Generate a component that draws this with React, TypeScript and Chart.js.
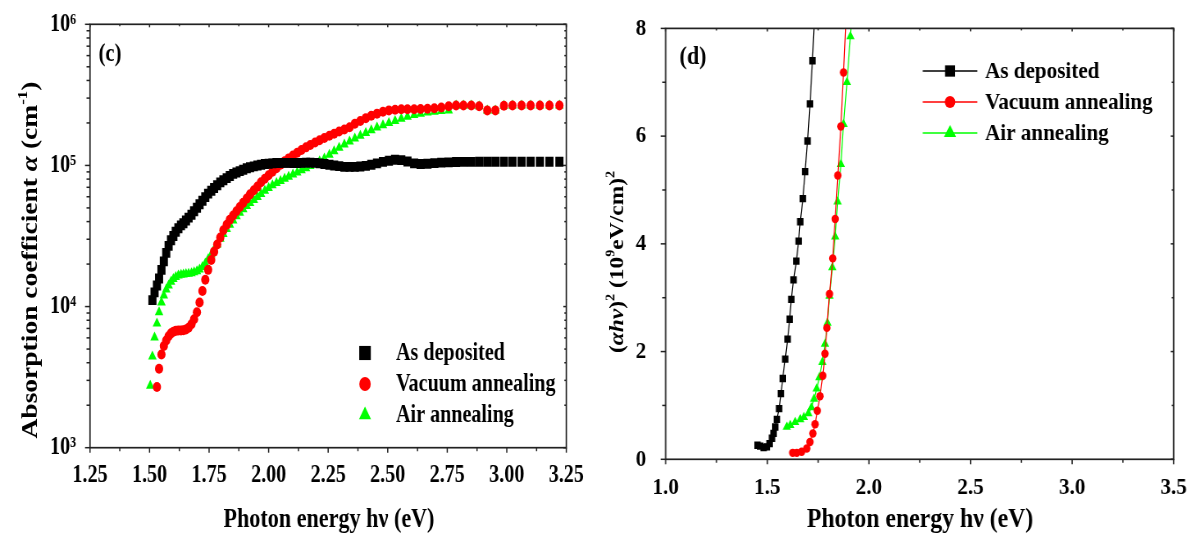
import React, { useEffect, useRef } from 'react';
import { Chart, registerables } from 'chart.js';

Chart.register(...registerables);

const FONT = '"Liberation Serif", "Times New Roman", serif';

// ---------- Panel (c): absorption coefficient ----------
const ENERGY_C = [
  1.503, 1.512, 1.521, 1.531, 1.540, 1.550, 1.560, 1.570, 1.580, 1.590, 1.600,
  1.610, 1.621, 1.632, 1.642, 1.653, 1.664, 1.676, 1.687, 1.699, 1.710,
  1.722, 1.734, 1.746, 1.759, 1.771, 1.784, 1.797, 1.810, 1.824,
  1.837, 1.851, 1.865, 1.879, 1.893, 1.908, 1.922, 1.938, 1.953,
  1.968, 1.984, 2.000, 2.016, 2.033, 2.050, 2.067, 2.084,
  2.102, 2.120, 2.138, 2.157, 2.175, 2.195, 2.214, 2.234,
  2.255, 2.275, 2.296, 2.318, 2.340, 2.362, 2.385, 2.408,
  2.431, 2.455, 2.480, 2.505, 2.531, 2.557, 2.583, 2.611,
  2.638, 2.667, 2.696, 2.725, 2.756, 2.787, 2.818, 2.851,
  2.884, 2.918, 2.952, 2.988, 3.024, 3.062, 3.100, 3.139, 3.179, 3.221,
];

const ALPHA_AS_DEPOSITED = [
  null, 11100, 12600, 14100, 15800, 18200, 20900, 24000, 26900, 29500, 31600,
  33900, 35900, 37600, 38900, 40700, 42700, 44700, 47300, 50100, 53100,
  56200, 59600, 63100, 66100, 69200, 72400, 75900, 78500, 81300,
  84100, 87100, 89100, 91200, 93300, 95500, 97100, 98400, 100000,
  101200, 102300, 102800, 103500, 104000, 104200, 104200, 104200,
  104000, 104000, 104200, 104700, 104700, 104200, 103500, 102300,
  101200, 100000, 98900, 97700, 97700, 97700, 98200, 99300,
  101200, 103500, 105900, 107900, 109600, 109100, 106700, 103500,
  102300, 102800, 103800, 104700, 105200, 105700, 105900, 105900,
  106200, 106200, 106200, 106200, 106200, 106200, 106200, 106200, 106200, 106200,
];

const ALPHA_VACUUM = [
  null, null, null, 2690, 3630, 4570, 5250, 5750, 6170, 6460, 6640,
  6730, 6760, 6760, 6790, 6890, 7080, 7500, 8130, 9120, 10700,
  12900, 15500, 18200, 21400, 24500, 27500, 30900, 34700, 38000,
  41200, 44200, 47300, 50700, 54300, 58200, 62400, 66800, 70800,
  75900, 80400, 85100, 90200, 95500, 101200, 107200, 112200,
  117500, 123000, 128800, 134300, 139600, 145200, 150700, 156300,
  162200, 167900, 173800, 179900, 186200, 197200, 206500, 216300,
  224900, 232800, 239900, 245500, 248300, 250000, 250000, 250000,
  251200, 252400, 254100, 257000, 263000, 266100, 266100, 266100,
  263000, 245500, 245500, 264800, 266100, 266100, 266100, 266100, 266100, 266100,
];

const ALPHA_AIR = [
  2750, 4420, 6030, 7590, 9120, 10700, 12000, 13200, 14100, 15000, 15700,
  16200, 16600, 16800, 16900, 17000, 17100, 17200, 17500, 17800, 18300,
  19100, 20200, 21600, 23400, 25400, 27500, 30200, 32700, 35500,
  38000, 40700, 43700, 46200, 49000, 51500, 54100, 56900, 59800,
  62800, 66100, 69200, 72400, 75000, 77600, 80400, 83200,
  86100, 89100, 92300, 95500, 98900, 102300, 107200, 112200,
  118900, 125900, 133400, 140600, 147900, 154900, 162200, 169800,
  177800, 185400, 192800, 199500, 206500, 213800, 221300, 227500,
  232800, 237100, 240400, 243200, 245500, 266100, 266100, 266100,
  263000, 245500, 245500, 264800, 266100, 266100, 266100, 266100, 266100, 266100,
];

// ---------- Panel (d): (alpha h nu)^2 in 10^9 (eV/cm)^2 ----------
const ENERGY_D_AS = [1.452, 1.465, 1.482, 1.498, 1.511, 1.523, 1.531, 1.539, 1.547, 1.558, 1.567, 1.576, 1.588, 1.600, 1.610, 1.618, 1.629, 1.643, 1.654, 1.662, 1.675, 1.686, 1.698, 1.710, 1.722, 1.734];
const TAUC_AS = [0.26, 0.245, 0.22, 0.23, 0.29, 0.39, 0.48, 0.60, 0.74, 0.94, 1.22, 1.50, 1.86, 2.23, 2.60, 2.97, 3.33, 3.68, 4.05, 4.41, 4.84, 5.34, 5.91, 6.60, 7.40, 8.30];
const ENERGY_D_VAC = [1.625, 1.645, 1.669, 1.694, 1.710, 1.724, 1.735, 1.746, 1.759, 1.773, 1.784, 1.793, 1.806, 1.822, 1.834, 1.847, 1.862, 1.875, 1.889];
const TAUC_VAC = [0.12, 0.12, 0.14, 0.20, 0.32, 0.48, 0.65, 0.90, 1.17, 1.55, 1.96, 2.44, 3.07, 3.73, 4.46, 5.27, 6.18, 7.18, 8.30];
const ENERGY_D_AIR = [1.596, 1.613, 1.637, 1.662, 1.680, 1.702, 1.717, 1.730, 1.743, 1.756, 1.771, 1.784, 1.796, 1.806, 1.820, 1.834, 1.846, 1.862, 1.875, 1.892, 1.909, 1.925];
const TAUC_AIR = [0.60, 0.63, 0.69, 0.74, 0.78, 0.85, 0.96, 1.12, 1.31, 1.52, 1.80, 2.14, 2.53, 3.03, 3.56, 4.13, 4.78, 5.48, 6.22, 7.00, 7.85, 8.70];

const SERIES_NAMES = ['As deposited', 'Vacuum annealing', 'Air annealing'];
const SERIES_COLORS = ['#000000', '#ff0000', '#00ff00'];
const POINT_STYLES = ['rect', 'circle', 'triangle'];

const X_TICKS_C = [1.25, 1.5, 1.75, 2.0, 2.25, 2.5, 2.75, 3.0, 3.25];
const X_MINOR_C = [1.375, 1.625, 1.875, 2.125, 2.375, 2.625, 2.875, 3.125];
const Y_TICKS_C = [1e3, 1e4, 1e5, 1e6];
const X_TICKS_D = [1.0, 1.5, 2.0, 2.5, 3.0, 3.5];
const X_MINOR_D = [1.25, 1.75, 2.25, 2.75, 3.25];
const Y_TICKS_D = [0, 2, 4, 6, 8];
const Y_MINOR_D = [1, 3, 5, 7];

const X_TITLE = 'Photon energy hν (eV)';
const PANEL_C = '(c)';
const PANEL_D = '(d)';

const SUP: Record<string, string> = { '0': '⁰', '1': '¹', '2': '²', '3': '³', '4': '⁴', '5': '⁵', '6': '⁶', '7': '⁷', '8': '⁸', '9': '⁹' };

// ---------- layout (screen px) ----------
const H = 535;
const SX_L = 0.82; // horizontal squeeze of the original figure, left panel
const SX_R = 0.88; // right panel
const LEFT_W = 595;
const RIGHT_X = 595;
const RIGHT_W = 598;

type Seg = { t: string; it?: boolean; sup?: boolean };
type TextItem = { segs: Seg[]; x: number; y: number; size: number; rotate?: boolean };

function drawRich(ctx: CanvasRenderingContext2D, item: TextItem) {
  const { segs, x, y, size, rotate } = item;
  ctx.save();
  ctx.translate(x, y);
  if (rotate) ctx.rotate(-Math.PI / 2);
  const fontFor = (s: Seg) => `${s.it ? 'italic ' : ''}bold ${s.sup ? Math.round(size * 0.6) : size}px ${FONT}`;
  let total = 0;
  for (const s of segs) {
    ctx.font = fontFor(s);
    total += ctx.measureText(s.t).width;
  }
  let cx = -total / 2;
  ctx.textAlign = 'left';
  ctx.textBaseline = 'alphabetic';
  ctx.fillStyle = '#000';
  const base = size * 0.34;
  for (const s of segs) {
    ctx.font = fontFor(s);
    ctx.fillText(s.t, cx, s.sup ? base - size * 0.42 : base);
    cx += ctx.measureText(s.t).width;
  }
  ctx.restore();
}

function drawMarker(ctx: CanvasRenderingContext2D, style: string, r: number, x: number, y: number) {
  ctx.beginPath();
  if (style === 'rect') {
    const s = Math.SQRT1_2 * r;
    ctx.rect(x - s, y - s, 2 * s, 2 * s);
  } else if (style === 'circle') {
    ctx.arc(x, y, r, 0, Math.PI * 2);
  } else {
    ctx.moveTo(x, y - r);
    ctx.lineTo(x + Math.sin(Math.PI * 2 / 3) * r, y + r / 2);
    ctx.lineTo(x - Math.sin(Math.PI * 2 / 3) * r, y + r / 2);
    ctx.closePath();
  }
  ctx.fill();
}

type DecorCfg = {
  sx: number;
  xMajor: number[]; xMinor: number[]; yMajor: number[]; yMinor: number[];
  texts: TextItem[];
  legend: { x: number; textX: number; rows: number[]; line?: number; size: number; radii: number[] };
};

function makeDecor(cfg: DecorCfg) {
  return {
    id: 'decor',
    afterDraw(chart: any) {
      const ctx: CanvasRenderingContext2D = chart.ctx;
      const { left, right, top, bottom } = chart.chartArea;
      const xs = chart.scales.x;
      const ys = chart.scales.y;
      ctx.save();
      ctx.strokeStyle = '#222';
      ctx.lineWidth = 1.7;
      ctx.strokeRect(left, top, right - left, bottom - top);
      ctx.lineWidth = 1.5;
      const seg = (x1: number, y1: number, x2: number, y2: number) => {
        ctx.beginPath();
        ctx.moveTo(x1, y1);
        ctx.lineTo(x2, y2);
        ctx.stroke();
      };
      const hx = (n: number) => n / cfg.sx;
      for (const v of cfg.xMajor) {
        const p = xs.getPixelForValue(v);
        seg(p, bottom, p, bottom + 5);
        seg(p, top, p, top + 3);
      }
      for (const v of cfg.xMinor) {
        const p = xs.getPixelForValue(v);
        seg(p, bottom, p, bottom + 3.5);
        seg(p, top, p, top + 2);
      }
      for (const v of cfg.yMajor) {
        const p = ys.getPixelForValue(v);
        seg(left, p, left - hx(5), p);
        seg(right, p, right - hx(3), p);
      }
      for (const v of cfg.yMinor) {
        const p = ys.getPixelForValue(v);
        seg(left, p, left - hx(3.5), p);
        seg(right, p, right - hx(2), p);
      }
      for (const t of cfg.texts) drawRich(ctx, t);
      const lg = cfg.legend;
      SERIES_NAMES.forEach((name, i) => {
        const y = lg.rows[i];
        ctx.fillStyle = SERIES_COLORS[i];
        ctx.strokeStyle = SERIES_COLORS[i];
        if (lg.line) {
          ctx.lineWidth = 1.3;
          seg(lg.x - lg.line / 2, y, lg.x + lg.line / 2, y);
        }
        drawMarker(ctx, POINT_STYLES[i], lg.radii[i], lg.x, y);
        ctx.fillStyle = '#000';
        ctx.font = `bold ${lg.size}px ${FONT}`;
        ctx.textAlign = 'left';
        ctx.textBaseline = 'middle';
        ctx.fillText(name, lg.textX, y + 1);
      });
      ctx.restore();
    },
  };
}

function toPoints(xs: number[], ys: (number | null)[]) {
  const out: { x: number; y: number }[] = [];
  xs.forEach((x, i) => {
    const y = ys[i];
    if (y !== null && y !== undefined) out.push({ x, y });
  });
  return out;
}

function fixedTicks(values: number[]) {
  return (scale: any) => {
    scale.ticks = values.map((v) => ({ value: v }));
  };
}

function buildLeft(canvas: HTMLCanvasElement) {
  const S = SX_L;
  const W = LEFT_W / S;
  const areaL = 90 / S;
  const areaR = 566 / S;
  const areaT = 24.3;
  const areaB = 447.7;
  const sup = (n: number) => String(n).split('').map((c) => SUP[c]).join('');
  const radii = [7, 5, 6];
  const decor = makeDecor({
    sx: S,
    xMajor: X_TICKS_C,
    xMinor: X_MINOR_C,
    yMajor: Y_TICKS_C,
    yMinor: [3, 4, 5].flatMap((e) => [2, 3, 4, 5, 6, 7, 8, 9].map((k) => k * Math.pow(10, e))),
    texts: [
      { segs: [{ t: PANEL_C }], x: 110 / S, y: 52, size: 25 },
      { segs: [{ t: X_TITLE }], x: 329 / S, y: 518, size: 27 },
      {
        segs: [{ t: 'Absorption coefficient ' }, { t: 'α', it: true }, { t: ' (cm' }, { t: '-1', sup: true }, { t: ')' }],
        x: 29 / S, y: 260, size: 27.5, rotate: true,
      },
    ],
    legend: { x: 365 / S, textX: 396 / S, rows: [353, 384, 415], size: 24.5, radii: [10, 7, 8.5] },
  });
  return new Chart(canvas, {
    type: 'scatter',
    data: {
      datasets: [ALPHA_AS_DEPOSITED, ALPHA_VACUUM, ALPHA_AIR].map((ys, i) => ({
        label: SERIES_NAMES[i],
        data: toPoints(ENERGY_C, ys),
        showLine: false,
        pointStyle: POINT_STYLES[i] as any,
        pointRadius: radii[i],
        pointBackgroundColor: SERIES_COLORS[i],
        pointBorderColor: SERIES_COLORS[i],
        pointBorderWidth: 0,
      })),
    },
    options: {
      responsive: false,
      animation: false,
      devicePixelRatio: 1,
      layout: { padding: { left: 0, top: areaT, right: W - areaR, bottom: 0 } },
      plugins: { legend: { display: false }, tooltip: { enabled: false } },
      scales: {
        x: {
          type: 'linear', min: 1.25, max: 3.25,
          afterBuildTicks: fixedTicks(X_TICKS_C),
          afterFit: (s: any) => { s.height = H - areaB; },
          grid: { display: false }, border: { display: false },
          ticks: {
            autoSkip: false, maxRotation: 0, padding: 5, color: '#000',
            font: { family: FONT, size: 24.5, weight: 'bold' },
            callback: (v: any) => Number(v).toFixed(2),
          },
        },
        y: {
          type: 'logarithmic', min: 1e3, max: 1e6,
          afterBuildTicks: fixedTicks(Y_TICKS_C),
          afterFit: (s: any) => { s.width = areaL; },
          grid: { display: false }, border: { display: false },
          ticks: {
            autoSkip: false, padding: 9, color: '#000',
            font: { family: FONT, size: 24.5, weight: 'bold' },
            callback: (v: any) => '10' + sup(Math.round(Math.log10(Number(v)))),
          },
        },
      },
    },
    plugins: [decor],
  });
}

function buildRight(canvas: HTMLCanvasElement) {
  const S = SX_R;
  const W = RIGHT_W / S;
  const areaL = (665.7 - RIGHT_X) / S;
  const areaR = (1173.3 - RIGHT_X) / S;
  const areaT = 25;
  const areaB = 459.3;
  const radii = [5.2, 4.2, 5.5];
  const decor = makeDecor({
    sx: S,
    xMajor: X_TICKS_D,
    xMinor: X_MINOR_D,
    yMajor: Y_TICKS_D,
    yMinor: Y_MINOR_D,
    texts: [
      { segs: [{ t: PANEL_D }], x: (693 - RIGHT_X) / S, y: 55, size: 25 },
      { segs: [{ t: X_TITLE }], x: (920 - RIGHT_X) / S, y: 518, size: 27 },
      {
        segs: [{ t: '(' }, { t: 'αhν', it: true }, { t: ')' }, { t: '2', sup: true }, { t: ' (10' }, { t: '9', sup: true }, { t: 'eV/cm)' }, { t: '2', sup: true }],
        x: (616 - RIGHT_X) / S, y: 262, size: 23.5, rotate: true,
      },
    ],
    legend: { x: (950 - RIGHT_X) / S, textX: (985 - RIGHT_X) / S, rows: [71, 102, 133], line: 62, size: 24, radii: [8, 6, 8] },
  });
  const sets = [
    [ENERGY_D_AS, TAUC_AS],
    [ENERGY_D_VAC, TAUC_VAC],
    [ENERGY_D_AIR, TAUC_AIR],
  ];
  return new Chart(canvas, {
    type: 'scatter',
    data: {
      datasets: sets.map(([xs, ys], i) => ({
        label: SERIES_NAMES[i],
        data: toPoints(xs as number[], ys as number[]),
        showLine: true,
        borderColor: SERIES_COLORS[i],
        borderWidth: 1.2,
        pointStyle: POINT_STYLES[i] as any,
        pointRadius: radii[i],
        pointBackgroundColor: SERIES_COLORS[i],
        pointBorderColor: SERIES_COLORS[i],
        pointBorderWidth: 0,
      })),
    },
    options: {
      responsive: false,
      animation: false,
      devicePixelRatio: 1,
      layout: { padding: { left: 0, top: areaT, right: W - areaR, bottom: 0 } },
      plugins: { legend: { display: false }, tooltip: { enabled: false } },
      scales: {
        x: {
          type: 'linear', min: 1.0, max: 3.5,
          afterBuildTicks: fixedTicks(X_TICKS_D),
          afterFit: (s: any) => { s.height = H - areaB; },
          grid: { display: false }, border: { display: false },
          ticks: {
            autoSkip: false, maxRotation: 0, padding: 6, color: '#000',
            font: { family: FONT, size: 24, weight: 'bold' },
            callback: (v: any) => Number(v).toFixed(1),
          },
        },
        y: {
          type: 'linear', min: 0, max: 8,
          afterBuildTicks: fixedTicks(Y_TICKS_D),
          afterFit: (s: any) => { s.width = areaL; },
          grid: { display: false }, border: { display: false },
          ticks: {
            autoSkip: false, padding: 14, color: '#000',
            font: { family: FONT, size: 24, weight: 'bold' },
            callback: (v: any) => String(v),
          },
        },
      },
    },
    plugins: [decor],
  });
}

export default function App() {
  const leftRef = useRef<HTMLCanvasElement>(null);
  const rightRef = useRef<HTMLCanvasElement>(null);

  useEffect(() => {
    const a = buildLeft(leftRef.current!);
    const b = buildRight(rightRef.current!);
    return () => {
      a.destroy();
      b.destroy();
    };
  }, []);

  const lw = Math.round(LEFT_W / SX_L);
  const rw = Math.round(RIGHT_W / SX_R);
  return (
    <div style={{ position: 'absolute', left: 0, top: 0, width: 1193, height: H, background: '#fff', overflow: 'hidden' }}>
      <div style={{ position: 'absolute', left: 0, top: 0, width: lw, height: H, transform: `scaleX(${SX_L})`, transformOrigin: '0 0' }}>
        <canvas ref={leftRef} width={lw} height={H} style={{ width: lw, height: H, display: 'block' }} />
      </div>
      <div style={{ position: 'absolute', left: RIGHT_X, top: 0, width: rw, height: H, transform: `scaleX(${SX_R})`, transformOrigin: '0 0' }}>
        <canvas ref={rightRef} width={rw} height={H} style={{ width: rw, height: H, display: 'block' }} />
      </div>
    </div>
  );
}
